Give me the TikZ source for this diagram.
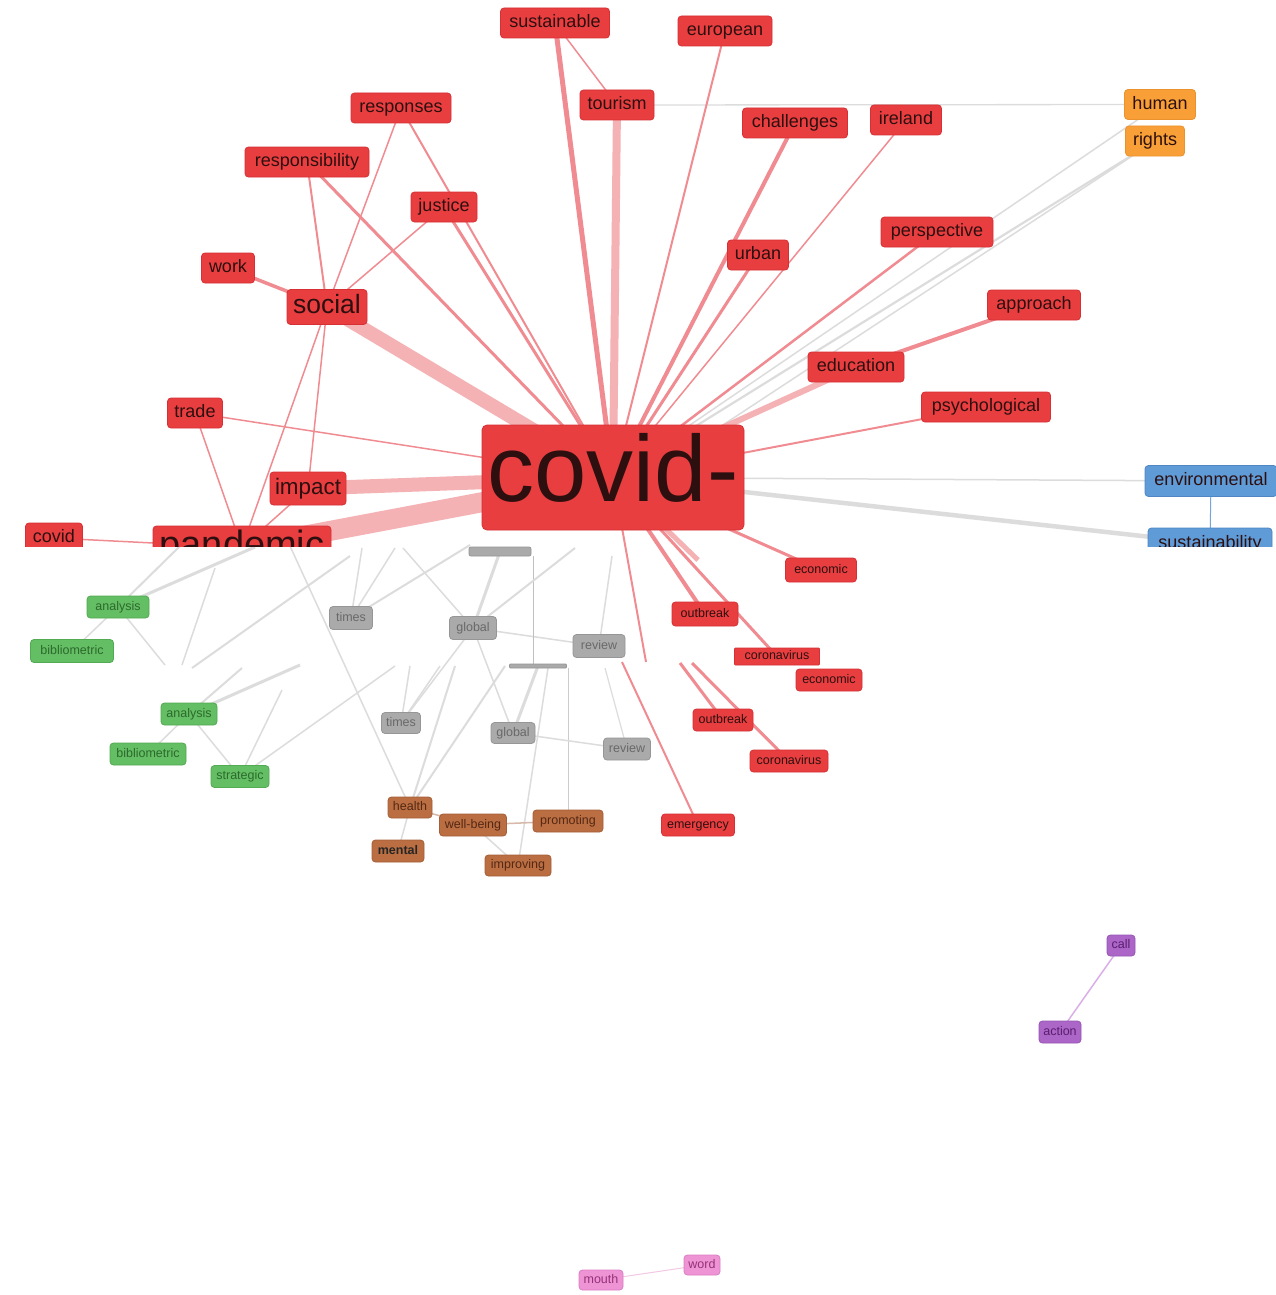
\documentclass[tikz,border=0pt]{standalone}
\usepackage{fontspec}
\setmainfont{Liberation Sans}
\usetikzlibrary{backgrounds}
\pgfdeclarelayer{paper}
\pgfsetlayers{paper,background,main}
\definecolor{nred}{RGB}{232,62,64}
\definecolor{nredd}{RGB}{214,48,52}
\definecolor{ntxt}{RGB}{45,15,15}
\definecolor{ered}{RGB}{240,140,145}
\definecolor{ebig}{RGB}{245,178,180}
\definecolor{egr}{RGB}{220,220,220}
\definecolor{ngrey}{RGB}{170,170,170}
\definecolor{ngreyd}{RGB}{150,150,150}
\definecolor{ngreyt}{RGB}{105,105,105}
\definecolor{ngreen}{RGB}{100,190,100}
\definecolor{ngreend}{RGB}{82,170,82}
\definecolor{ngreent}{RGB}{45,105,45}
\definecolor{nbrown}{RGB}{186,110,66}
\definecolor{nbrownd}{RGB}{165,95,55}
\definecolor{nbrownt}{RGB}{85,40,20}
\definecolor{norange}{RGB}{248,160,55}
\definecolor{norangeb}{RGB}{235,145,45}
\definecolor{nblue}{RGB}{95,155,215}
\definecolor{nblued}{RGB}{80,135,195}
\definecolor{npurple}{RGB}{172,102,200}
\definecolor{npurpled}{RGB}{150,85,180}
\definecolor{npurplet}{RGB}{90,30,110}
\definecolor{npink}{RGB}{238,148,212}
\definecolor{npinkd}{RGB}{220,125,195}
\definecolor{npinkt}{RGB}{150,50,120}
\definecolor{epurple}{RGB}{218,175,232}
\definecolor{epink}{RGB}{242,200,228}
\definecolor{eblue}{RGB}{120,165,215}
\definecolor{ebrown}{RGB}{215,185,170}
\tikzset{
  nd/.style={rounded corners=3.5pt, inner sep=0pt, align=center, line width=0.8pt},
  big/.style={font=\fontsize{18}{18}\selectfont, text height=13, text depth=3.6, minimum height=30},
  small/.style={font=\fontsize{12.5}{12.5}\selectfont, text height=9, text depth=2.5, minimum height=22},
  rn/.style={nd, fill=nred, draw=nredd, text=ntxt},
  gn/.style={nd, fill=ngrey, draw=ngreyd, text=ngreyt},
  grn/.style={nd, fill=ngreen, draw=ngreend, text=ngreent},
  bn/.style={nd, fill=nbrown, draw=nbrownd, text=nbrownt},
  on/.style={nd, fill=norange, draw=norangeb, text=ntxt},
  bln/.style={nd, fill=nblue, draw=nblued, text=ntxt},
  pn/.style={nd, fill=npurple, draw=npurpled, text=npurplet},
  pkn/.style={nd, fill=npink, draw=npinkd, text=npinkt},
  re/.style={draw=ered},
  rb/.style={draw=ebig},
  ge/.style={draw=egr}
}
\begin{document}
\begin{tikzpicture}[x=1pt,y=-1pt]
\begin{pgfonlayer}{paper}
  \fill[white] (0,0) rectangle (1275,1295);
\end{pgfonlayer}
\useasboundingbox (0,0) rectangle (1275,1295);

% ---------- upper nodes ----------
\node[rn, font=\fontsize{94}{94}\selectfont, text height=67.3, text depth=18.8, minimum width=262, minimum height=105, rounded corners=5pt] (cv) at (613,477.5) {covid-};
\node[rn, big, minimum width=109] (sustainable) at (555,23) {sustainable};
\node[rn, big, minimum width=94] (european) at (725,31) {european};
\node[rn, big, minimum width=74] (tourism) at (617,105) {tourism};
\node[rn, big, minimum width=100] (responses) at (401,108) {responses};
\node[rn, big, minimum width=105] (challenges) at (795,123) {challenges};
\node[rn, big, minimum width=71] (ireland) at (906,120) {ireland};
\node[rn, big, minimum width=124] (responsibility) at (307,162) {responsibility};
\node[rn, big, minimum width=66] (justice) at (444,207) {justice};
\node[rn, big, minimum width=112] (perspective) at (937,232) {perspective};
\node[rn, big, minimum width=61] (urban) at (758,255) {urban};
\node[rn, big, minimum width=53] (work) at (228,268) {work};
\node[rn, font=\fontsize{26.5}{26.5}\selectfont, text height=19, text depth=5.3, minimum width=80, minimum height=35] (social) at (327,307) {social};
\node[rn, big, minimum width=93] (approach) at (1034,305) {approach};
\node[rn, big, minimum width=96] (education) at (856,367) {education};
\node[rn, big, minimum width=129] (psychological) at (986,407) {psychological};
\node[rn, big, minimum width=55] (trade) at (195,413) {trade};
\node[rn, font=\fontsize{22.4}{22.4}\selectfont, text height=16, text depth=4.5, minimum width=76, minimum height=33] (impact) at (308,488.5) {impact};
\node[on, big, minimum width=71] (human) at (1160,104.5) {human};
\node[on, big, minimum width=59] (rights) at (1155,141) {rights};
\node[bln, big, minimum width=132, minimum height=31] (environmental) at (1211,481) {environmental};
\begin{scope}
  \clip (0,0) rectangle (1275,546);
  \node[rn, font=\fontsize{38}{38}\selectfont, text height=27, text depth=8, inner ysep=4, minimum width=178, anchor=base] (pandemic) at (242,557) {pandemic};
  \node[rn, big, minimum width=57] (covidw) at (54,538) {covid};
  \node[bln, big, minimum width=124, minimum height=31] (sustainability) at (1210,543.5) {sustainability};
\end{scope}

% ---------- lower nodes ----------
\node[rn, small, minimum width=71, minimum height=24] (economic) at (821,570) {economic};
\node[rn, small, minimum width=66, minimum height=24] (outbreak) at (705,614) {outbreak};
\node[rn, small, minimum width=85, minimum height=17, rounded corners=1pt] (coronavirus) at (777,656.5) {coronavirus};
\node[rn, small, minimum width=66] (economicb) at (829,680) {economic};
\node[rn, small, minimum width=60] (outbreakb) at (723,720) {outbreak};
\node[rn, small, minimum width=78] (coronavirusb) at (789,761) {coronavirus};
\node[rn, small, minimum width=73] (emergency) at (698,825) {emergency};

\node[gn, small, minimum width=43, minimum height=23] (timesa) at (351,618) {times};
\node[gn, small, minimum width=47, minimum height=23] (globala) at (473,628) {global};
\node[gn, small, minimum width=52, minimum height=23] (reviewa) at (599,646) {review};
\node[gn, small, minimum width=39, minimum height=21] (timesb) at (401,723) {times};
\node[gn, small, minimum width=44, minimum height=21] (globalb) at (513,733) {global};
\node[gn, small, minimum width=47, minimum height=22] (reviewb) at (627,749) {review};
\node[gn, minimum width=62, minimum height=9, rounded corners=2pt] (bara) at (500,551.5) {};
\node[gn, minimum width=57, minimum height=4, rounded corners=1pt] (barb) at (538,666) {};

\node[grn, small, minimum width=62] (analysisa) at (118,607) {analysis};
\node[grn, small, minimum width=83, minimum height=23] (bibliometrica) at (72,651) {bibliometric};
\node[grn, small, minimum width=56] (analysisb) at (189,714) {analysis};
\node[grn, small, minimum width=76] (bibliometricb) at (148,754) {bibliometric};
\node[grn, small, minimum width=58] (strategic) at (240,776.5) {strategic};

\node[bn, small, minimum width=44, minimum height=21] (health) at (410,807.5) {health};
\node[bn, small, minimum width=67] (wellbeing) at (473,825) {well-being};
\node[bn, small, minimum width=70] (promoting) at (568,821) {promoting};
\node[bn, small, minimum width=52, font=\fontsize{12.5}{12.5}\selectfont\bfseries, text=black!85] (mental) at (398,851) {mental};
\node[bn, small, minimum width=66, minimum height=21] (improving) at (518,865.5) {improving};

\node[pn, small, minimum width=28, minimum height=21] (call) at (1121,945.5) {call};
\node[pn, small, minimum width=42] (action) at (1060,1032) {action};
\node[pkn, small, minimum width=44, minimum height=20] (mouth) at (601,1280) {mouth};
\node[pkn, small, minimum width=36, minimum height=20] (word) at (702,1265) {word};

% ---------- free ends ----------
\coordinate (cvR) at (700,440);
\coordinate (cvL) at (470,545);
\coordinate (gA) at (180,546);
\coordinate (gB) at (255,547);
\coordinate (gC) at (165,665);
\coordinate (gD) at (215,568);
\coordinate (gE) at (182,665);
\coordinate (gF) at (350,556);
\coordinate (gG) at (192,668);
\coordinate (gH) at (242,668);
\coordinate (gI) at (300,665);
\coordinate (gJ) at (282,690);
\coordinate (gK) at (395,666);
\coordinate (gL) at (290,546);
\coordinate (gM) at (362,548);
\coordinate (gN) at (395,548);
\coordinate (gO) at (403,548);
\coordinate (gP) at (533,556);
\coordinate (gQ) at (533,665);
\coordinate (gR) at (568,668);
\coordinate (gS) at (410,666);
\coordinate (gT) at (440,666);
\coordinate (gU) at (455,666);
\coordinate (gV) at (505,666);
\coordinate (gW) at (548,668);
\coordinate (gX) at (612,556);
\coordinate (gY) at (605,668);
\coordinate (gZ) at (575,548);
\coordinate (rA) at (646,662);
\coordinate (rB) at (680,663);
\coordinate (rC) at (692,663);
\coordinate (rD) at (622,662);
\coordinate (rE) at (698,560);

% ---------- connectors ----------
\begin{scope}[on background layer]
  % grey, upper
  \draw[ge, line width=1.3] (tourism.center) -- (human.center);
  \draw[ge, line width=2.2] (rights.center) -- (cv.center);
  \draw[ge, line width=1.5] (human.center) -- (cv.center);
  \draw[ge, line width=1.5] (rights.center) -- (cvR);
  \draw[ge, line width=1.5] (environmental.center) -- (cv.center);
  \begin{scope}
    \clip (0,0) rectangle (1275,546);
    \draw[ge, line width=4.5] (sustainability.center) -- (cv.center);
    \draw[draw=eblue, line width=1] (environmental.center) -- (sustainability.center);
    \draw[rb, line width=20] (pandemic.center) -- (cv.center);
    \draw[re, line width=1.5] (covidw.center) -- (pandemic.center);
    \draw[re, line width=1.5] (trade.center) -- (pandemic.center);
    \draw[re, line width=1.5] (social.center) -- (pandemic.center);
    \draw[re, line width=1.5] (impact.center) -- (pandemic.center);
  \end{scope}
  % red, upper
  \draw[rb, line width=14] (social.center) -- (cv.center);
  \draw[rb, line width=14] (impact.center) -- (cv.center);
  \draw[rb, line width=8] (tourism.center) -- (cv.center);
  \draw[re, line width=5] (sustainable.center) -- (cv.center);
  \draw[re, line width=1.5] (sustainable.center) -- (tourism.center);
  \draw[re, line width=2] (european.center) -- (cv.center);
  \draw[re, line width=4] (challenges.center) -- (cv.center);
  \draw[re, line width=1.5] (ireland.center) -- (cv.center);
  \draw[re, line width=3] (urban.center) -- (cv.center);
  \draw[re, line width=2.5] (perspective.center) -- (cv.center);
  \draw[rb, line width=6] (education.center) -- (cv.center);
  \draw[re, line width=4] (approach.center) -- (education.center);
  \draw[re, line width=2] (psychological.center) -- (cv.center);
  \draw[re, line width=3] (responsibility.center) -- (cv.center);
  \draw[re, line width=2] (responses.center) -- (cv.center);
  \draw[re, line width=3] (justice.center) -- (cv.center);
  \draw[re, line width=1.5] (trade.center) -- (cv.center);
  \draw[re, line width=1.5] (social.center) -- (responses.center);
  \draw[re, line width=2] (social.center) -- (responsibility.center);
  \draw[re, line width=1.5] (social.center) -- (justice.center);
  \draw[re, line width=3.5] (social.center) -- (work.center);
  \draw[re, line width=1.5] (social.center) -- (impact.center);
  % red, lower
  \draw[re, line width=3] (cv.center) -- (economic.center);
  \draw[re, line width=4] (cv.center) -- (outbreak.center);
  \draw[re, line width=3] (cv.center) -- (coronavirus.center);
  \draw[re, line width=2] (cv.center) -- (rA);
  \draw[rb, line width=5] (cv.center) -- (rE);
  \draw[re, line width=3] (rB) -- (outbreakb.center);
  \draw[re, line width=3] (rC) -- (coronavirusb.center);
  \draw[re, line width=2] (rD) -- (emergency.center);
  % grey, lower
  \draw[ge, line width=2] (gA) -- (analysisa.center);
  \draw[ge, line width=3] (gB) -- (analysisa.center);
  \draw[ge, line width=1.5] (analysisa.center) -- (bibliometrica.center);
  \draw[ge, line width=1.5] (analysisa.center) -- (gC);
  \draw[ge, line width=1.5] (gD) -- (gE);
  \draw[ge, line width=2] (gF) -- (gG);
  \draw[ge, line width=2] (gH) -- (analysisb.center);
  \draw[ge, line width=3] (gI) -- (analysisb.center);
  \draw[ge, line width=1.5] (analysisb.center) -- (bibliometricb.center);
  \draw[ge, line width=1.5] (analysisb.center) -- (strategic.center);
  \draw[ge, line width=1.5] (strategic.center) -- (gJ);
  \draw[ge, line width=1.5] (strategic.center) -- (gK);
  \draw[ge, line width=1.5] (gL) -- (health.center);
  \draw[ge, line width=1.5] (timesa.center) -- (gM);
  \draw[ge, line width=1.5] (timesa.center) -- (gN);
  \draw[ge, line width=1.5] (gO) -- (globala.center);
  \draw[ge, line width=3] (bara.center) -- (globala.center);
  \draw[ge, line width=1.5] (globala.center) -- (reviewa.center);
  \draw[ge, line width=1.5] (globala.center) -- (timesb.center);
  \draw[ge, line width=1.5] (globala.center) -- (globalb.center);
  \draw[draw=black!25, line width=0.8] (gP) -- (gQ);
  \draw[draw=black!20, line width=0.8] (gR) -- (promoting.center);
  \draw[ge, line width=3] (globalb.center) -- (barb.center);
  \draw[ge, line width=1.5] (globalb.center) -- (reviewb.center);
  \draw[ge, line width=1.5] (timesb.center) -- (gS);
  \draw[ge, line width=1.5] (timesb.center) -- (gT);
  \draw[ge, line width=2] (health.center) -- (gU);
  \draw[ge, line width=2] (health.center) -- (gV);
  \draw[ge, line width=1.5] (improving.center) -- (gW);
  \draw[ge, line width=1.5] (reviewa.center) -- (gX);
  \draw[ge, line width=1.2] (reviewb.center) -- (gY);
  \draw[ge, line width=2] (cvL) -- (timesa.center);
  \draw[ge, line width=2] (gZ) -- (globala.center);
  \draw[draw=ebrown, line width=1.5] (health.center) -- (wellbeing.center);
  \draw[draw=ebrown, line width=1.5] (wellbeing.center) -- (promoting.center);
  \draw[ge, line width=1.5] (wellbeing.center) -- (improving.center);
  \draw[ge, line width=1.5] (health.center) -- (mental.center);
  % isolated pairs
  \draw[draw=epurple, line width=1.5] (call.center) -- (action.center);
  \draw[draw=epink, line width=1] (mouth.center) -- (word.center);
\end{scope}
\end{tikzpicture}
\end{document}
